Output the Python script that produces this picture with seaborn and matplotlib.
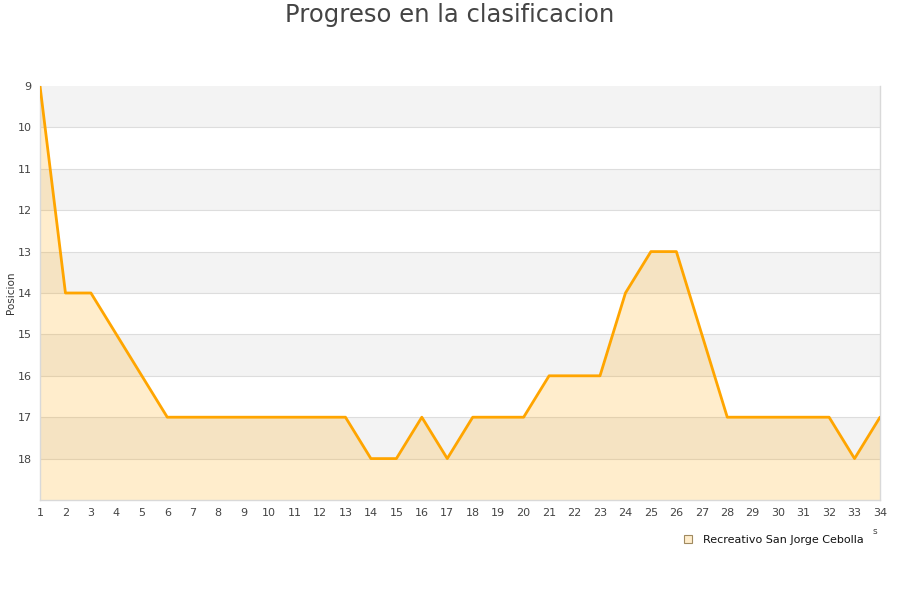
import matplotlib
matplotlib.use("Agg")
import matplotlib.pyplot as plt
import seaborn as sns
import pandas as pd
from matplotlib.lines import Line2D

jornadas = list(range(1, 35))
posiciones = [9, 14, 14, 15, 16, 17, 17, 17, 17, 17, 17, 17, 17, 18, 18, 17, 18, 17, 17, 17,
              16, 16, 16, 14, 13, 13, 15, 17, 17, 17, 17, 17, 18, 17]
equipo = "Recreativo San Jorge Cebolla"
y_ticks = list(range(9, 19))

df = pd.DataFrame({"Jornada": jornadas, "Posicion": posiciones})

sns.set_theme(style="white")
plt.rcParams['font.family'] = ['DejaVu Sans']

fig = plt.figure(figsize=(9, 6), dpi=100)
ax = fig.add_axes([40/900, 1-500/600, 840/900, 414/600])

# alternating bands
for i, y in enumerate(range(9, 19)):
    if i % 2 == 0:
        ax.axhspan(y, y + 1, color="#f3f3f3", zorder=0, lw=0)

sns.lineplot(data=df, x="Jornada", y="Posicion", color="#ffa500", lw=2, ax=ax, zorder=3)
ax.fill_between(df["Jornada"], df["Posicion"], 19, color="#ffa500", alpha=0.2, lw=0, zorder=2)

ax.set_xlim(1, 34)
ax.set_ylim(19, 9)
ax.set_yticks(y_ticks)
ax.set_xticks(jornadas)
for y in range(10, 19):
    ax.axhline(y, color="#dddddd", lw=0.8, zorder=1)

ax.tick_params(axis="both", labelsize=8, colors="#444444", length=0, pad=6)
ax.set_xlabel("")
ax.set_ylabel("")
fig.text(11/900, 1-293/600, "Posicion", fontsize=7.5, color="#333333", rotation=90,
         ha="center", va="center")
for s in ax.spines.values():
    s.set_color("#d9d9d9")
    s.set_linewidth(1)
ax.spines["top"].set_visible(False)

fig.text(0.5, 1-15/600, "Progreso en la clasificacion", fontsize=17.5, color="#444444",
         ha="center", va="center")

fig.text(875/900, 1-532/600, "s", fontsize=6.5, color="#444444", ha="center", va="center")

handle = Line2D([0], [0], marker="s", linestyle="none", markersize=6,
                markerfacecolor="#ffedcc", markeredgecolor="#a08a60", markeredgewidth=0.8)
fig.legend([handle], [equipo], loc="center right", bbox_to_anchor=(868/900, 1-540/600),
           frameon=False, fontsize=8, handletextpad=0.3, borderaxespad=0, labelcolor="#111111")

fig.savefig("out.png", dpi=100)
